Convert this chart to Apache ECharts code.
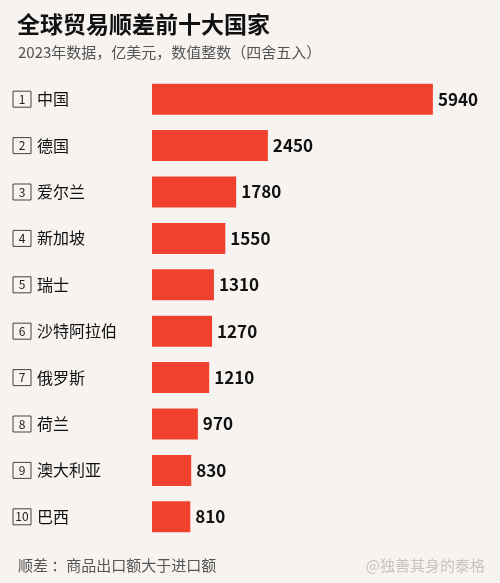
<!DOCTYPE html>
<html><head><meta charset="utf-8">
<script src="https://cdn.jsdelivr.net/npm/echarts@6/dist/echarts.min.js"></script>
<style>html,body{margin:0;padding:0;background:#f6f3f0;}#c{width:500px;height:583px;}</style>
</head><body><div id="c"></div>
<script>
const ranks = ['1','2','3','4','5','6','7','8','9','10'];
const countries = ['中国','德国','爱尔兰','新加坡','瑞士','沙特阿拉伯','俄罗斯','荷兰','澳大利亚','巴西'];
const values = [5940, 2450, 1780, 1550, 1310, 1270, 1210, 970, 830, 810];
const titleText = '全球贸易顺差前十大国家';
const subText = '2023年数据，亿美元，数值整数（四舍五入）';
const footText = '顺差 ：商品出口额大于进口额';
const markText = '@独善其身的泰格';

const chart = echarts.init(document.getElementById('c'));
const font = '"Noto Sans CJK SC", "Noto Sans", sans-serif';
chart.setOption({
  backgroundColor: '#f6f3f0',
  textStyle: {fontFamily: font},
  title: [
    {text: titleText, left: 12, top: 8, textStyle: {fontSize: 23, fontWeight: 'bold', color: '#111', fontFamily: font}},
    {text: subText, left: 13, top: 40, textStyle: {fontSize: 15, fontWeight: 'normal', color: '#555', fontFamily: font}},
    {text: footText, left: 13, top: 553, textStyle: {fontSize: 15, fontWeight: 'normal', color: '#555', fontFamily: font}},
    {text: markText, right: 10, top: 553, textStyle: {fontSize: 15, fontWeight: 'normal', color: 'rgba(150,150,150,0.5)', fontFamily: font}}
  ],
  grid: {left: 152, right: 17, top: 76, bottom: 43},
  xAxis: {type: 'value', min: 0, max: 7000, show: false},
  yAxis: {
    type: 'category', inverse: true,
    data: countries.map((c, i) => ranks[i] + '|' + c),
    axisLine: {show: false}, axisTick: {show: false}, splitLine: {show: false},
    axisLabel: {
      align: 'left', margin: 139,
      formatter: v => { const p = v.split('|'); return '{b|' + p[0] + '}{n|' + p[1] + '}'; },
      rich: {
        b: {fontSize: 12, color: '#222', borderColor: '#444', borderWidth: 1, width: 18, height: 16, align: 'center', lineHeight: 16, fontFamily: font},
        n: {fontSize: 16, color: '#111', padding: [0,0,0,6], fontFamily: font}
      }
    }
  },
  series: [{
    type: 'bar', data: values, barWidth: 31,
    itemStyle: {color: '#ef412d'},
    label: {show: true, position: 'right', distance: 5, fontSize: 17, fontWeight: 'bold', color: '#111', fontFamily: font}
  }]
});
</script></body></html>
